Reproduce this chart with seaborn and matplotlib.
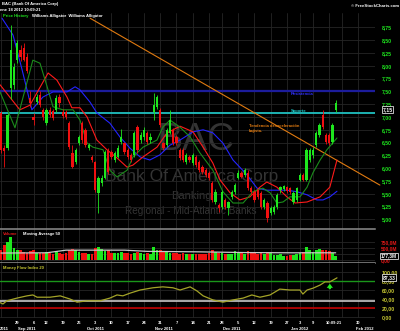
import numpy as np
import pandas as pd
import matplotlib
matplotlib.use("Agg")
import matplotlib.pyplot as plt
import seaborn as sns

# trading day index: 0 = 22 Aug 2011 ... 103 = 19 Jan 2012
opens = [7.08, 6.40, 6.39, 7.57, 7.63, 8.11, 8.31, 8.35, 8.17, 7.37,
         7.00, 7.29, 7.43, 7.14, 6.88, 7.14, 7.12, 7.14, 7.39, 7.10,
         7.10, 6.88, 6.30, 6.12, 6.49, 6.88, 6.75, 6.40, 6.22, 6.12,
         5.52, 5.71, 5.81, 6.36, 6.32, 6.16, 6.22, 6.51, 6.49, 6.36,
         6.26, 6.26, 6.80, 6.55, 6.61, 6.69, 6.55, 7.10, 7.20, 7.14,
         6.49, 6.45, 6.69, 6.75, 6.61, 6.36, 6.36, 6.12, 6.22, 6.10,
         6.22, 6.12, 6.02, 5.96, 5.91, 5.71, 5.34, 5.28, 5.24, 5.38,
         5.22, 5.44, 5.54, 5.81, 5.91, 5.87, 5.91, 5.61, 5.54, 5.57,
         5.52, 5.24, 5.32, 5.12, 5.14, 5.24, 5.57, 5.60, 5.63, 5.61,
         5.34, 5.38, 5.77, 5.87, 5.77, 6.16, 6.26, 6.45, 6.65, 7.04,
         6.65, 6.65, 6.51, 7.14]
highs = [7.12, 6.45, 7.08, 8.80, 8.05, 8.50, 8.40, 8.45, 8.25, 7.50,
         7.08, 7.45, 7.50, 7.18, 7.18, 7.20, 7.16, 7.42, 7.45, 7.15,
         7.14, 6.92, 6.45, 6.40, 6.65, 6.92, 6.78, 6.50, 6.25, 6.15,
         5.85, 5.86, 6.36, 6.40, 6.36, 6.33, 6.45, 6.77, 6.52, 6.40,
         6.30, 6.72, 6.84, 6.70, 6.80, 6.72, 6.68, 7.47, 7.42, 7.18,
         6.52, 6.78, 7.14, 6.78, 6.64, 6.40, 6.40, 6.30, 6.26, 6.30,
         6.26, 6.16, 6.06, 6.00, 5.95, 5.75, 5.60, 5.32, 5.58, 5.42,
         5.36, 5.58, 5.72, 5.96, 5.95, 6.00, 5.96, 5.65, 5.58, 5.60,
         5.56, 5.42, 5.36, 5.26, 5.28, 5.52, 5.66, 5.68, 5.66, 5.64,
         5.56, 5.64, 5.90, 5.90, 6.40, 6.40, 6.42, 6.72, 6.88, 7.14,
         6.68, 6.68, 6.88, 7.33]
lows = [6.30, 6.02, 6.36, 7.35, 7.55, 8.05, 8.10, 8.10, 7.85, 7.20,
        6.84, 7.25, 7.20, 6.95, 6.84, 7.00, 6.95, 7.10, 7.20, 6.98,
        6.96, 6.38, 6.00, 6.08, 6.45, 6.50, 6.42, 6.35, 6.12, 5.53,
        5.13, 5.66, 5.78, 5.88, 6.18, 6.12, 6.20, 6.48, 6.28, 6.18,
        6.12, 6.22, 6.30, 6.50, 6.55, 6.47, 6.50, 6.94, 7.15, 6.80,
        6.36, 6.42, 6.66, 6.45, 6.45, 6.16, 6.12, 6.08, 6.12, 6.06,
        6.02, 5.92, 5.88, 5.83, 5.77, 5.34, 5.30, 5.15, 5.20, 5.20,
        5.09, 5.40, 5.50, 5.78, 5.80, 5.83, 5.57, 5.50, 5.34, 5.40,
        5.20, 5.20, 4.95, 5.08, 5.10, 5.20, 5.52, 5.56, 5.52, 5.50,
        5.30, 5.34, 5.74, 5.74, 5.74, 6.12, 6.20, 6.42, 6.60, 6.76,
        6.48, 6.45, 6.48, 7.10]
closes = [6.35, 6.33, 7.04, 8.31, 7.98, 8.45, 8.17, 8.12, 7.90, 7.27,
          6.94, 7.39, 7.23, 7.00, 7.14, 7.04, 6.98, 7.37, 7.27, 7.02,
          7.00, 6.41, 6.02, 6.36, 6.61, 6.55, 6.45, 6.45, 6.16, 5.57,
          5.81, 5.81, 6.32, 5.93, 6.22, 6.30, 6.40, 6.61, 6.32, 6.22,
          6.16, 6.69, 6.36, 6.65, 6.75, 6.51, 6.61, 7.23, 7.39, 6.84,
          6.40, 6.75, 6.94, 6.49, 6.49, 6.20, 6.16, 6.26, 6.16, 6.26,
          6.06, 5.96, 5.93, 5.87, 5.81, 5.38, 5.54, 5.22, 5.54, 5.24,
          5.34, 5.54, 5.67, 5.91, 5.83, 5.96, 5.61, 5.54, 5.38, 5.44,
          5.24, 5.38, 5.03, 5.22, 5.24, 5.48, 5.63, 5.65, 5.56, 5.54,
          5.52, 5.61, 5.87, 5.77, 6.36, 6.36, 6.36, 6.69, 6.84, 6.80,
          6.51, 6.49, 6.84, 7.27]
# volume in millions
volumes = [420, 620, 750, 960, 500, 420, 400, 330, 300, 380,
           420, 300, 280, 300, 330, 280, 260, 350, 300, 260,
           280, 420, 450, 400, 330, 300, 280, 260, 250, 500,
           550, 450, 380, 400, 300, 300, 280, 330, 300, 280,
           260, 300, 330, 300, 270, 280, 260, 560, 400, 420,
           360, 330, 300, 300, 280, 260, 280, 250, 230, 250,
           260, 240, 230, 250, 300, 420, 350, 280, 300, 260,
           250, 260, 380, 330, 300, 260, 380, 300, 280, 250,
           300, 260, 330, 300, 200, 210, 230, 180, 160, 190,
           220, 230, 300, 330, 550, 400, 320, 420, 450, 400,
           420, 380, 300, 177]
vol_ma_idx = [0, 14, 20, 38, 45, 61, 75, 90, 103]
vol_ma_val = [290, 300, 410, 410, 360, 340, 310, 300, 300]

# Williams Alligator lines
jaw_idx = [0.3, 3.7, 6.5, 9.5, 12.9, 16, 20.3, 22.8, 24.3, 27.4, 29.5, 33.5, 36.6, 39.7,
           42.8, 45.8, 48.9, 52, 55.1, 59.1, 62.2, 65.2, 68.3, 71.4, 75.7, 78.8, 81.8,
           88, 91.1, 94.2, 97.2, 99.1, 101.2, 103.4]
jaw_val = [8.93, 8.60, 7.92, 7.14, 7.39, 7.49, 7.49, 7.59, 7.53, 7.29, 7.08, 6.88, 6.61, 6.39,
           6.22, 6.16, 6.26, 6.45, 6.55, 6.71, 6.75, 6.69, 6.49, 6.16, 5.87, 5.61, 5.57,
           5.57, 5.54, 5.48, 5.38, 5.38, 5.44, 5.55]
teeth_idx = [-0.3, 5.8, 8.9, 14.5, 17.2, 20.3, 21.8, 24.3, 26.5, 29.5, 32.6, 35.7, 38.8,
             40.6, 43.7, 48, 51.1, 55.1, 59.1, 62.2, 65.2, 67.4, 70.5, 73.5, 76.6, 79.7,
             81.8, 84.9, 88, 90.5, 94.2, 98.2, 101.2, 103.4]
teeth_val = [7.63, 7.14, 7.23, 7.86, 7.72, 7.39, 7.18, 7.18, 7.00, 6.55, 6.36, 6.20, 6.02,
             6.06, 6.22, 6.41, 6.69, 6.82, 6.71, 6.41, 6.10, 5.77, 5.52, 5.38, 5.44, 5.63,
             5.73, 5.63, 5.44, 5.32, 5.34, 5.44, 5.63, 6.16]
lips_idx = [-0.3, 4.3, 9.8, 12, 14.2, 16, 19.1, 22.2, 24.3, 26.5, 28.3, 31.4, 33.5, 35.7,
            38.8, 40.6, 43.7, 48, 49.8, 52, 55.1, 58.2, 61.2, 65.2, 68.3, 71.4, 74.5, 77.5,
            80.6, 82.8, 84.9, 86.8, 88.9, 92, 94.2, 96, 98.2, 100.3, 103.4]
lips_val = [7.49, 6.79, 8.11, 8.05, 7.59, 7.20, 7.14, 7.14, 6.94, 6.49, 6.41, 6.36, 5.96, 5.83,
            5.96, 6.22, 6.41, 6.55, 6.80, 6.94, 6.80, 6.61, 6.30, 5.96, 5.54, 5.32, 5.32, 5.54,
            5.61, 5.52, 5.32, 5.34, 5.44, 5.44, 5.63, 5.91, 6.16, 6.36, 6.59]
mfi_idx = [-0.3, 0.6, 1.8, 4.9, 8, 9.8, 11.1, 12.9, 15.1, 18.2, 21.2, 23.4, 26.5, 30.5,
           33.5, 35.7, 37.5, 39.7, 42.8, 46.8, 49.8, 52.9, 55.1, 58.2, 60.3, 62.2, 65.2,
           68.3, 71.4, 74.5, 77.2, 79.7, 82.8, 85.8, 88.9, 92, 92.9, 94.2, 96, 98.2, 99.7,
           101.2, 103.4]
mfi_val = [32, 29, 36, 42, 47, 49, 44, 44, 44, 47, 40, 33, 36, 36, 42, 49, 47, 53, 60, 65,
           67, 65, 60, 67, 58, 47, 38, 33, 38, 42, 49, 44, 49, 62, 60, 60, 51, 60, 64, 71,
           78, 78, 87]

trend_idx = [27.4, 116.6]
trend_val = [8.93, 5.67]
resistance = 7.51
support = 7.08
last_price = 7.15
last_volume = 177.3
last_mfi = 87.33

week_ticks = [5, 10, 14, 19, 24, 29, 34, 39, 44, 49, 54, 59, 64, 68, 73, 78, 83, 88, 92, 96, 110]
week_labels = ["29", "6", "12", "19", "26", "3", "10", "17", "24", "31", "7", "14", "21",
               "28", "5", "12", "19", "27", "3", "9", "30"]
grid_ticks = week_ticks + [0, 101, 105, 115]
month_ticks = [8, 29, 50, 71, 92, 112]
month_labels = ["Sep 2011", "Oct 2011", "Nov 2011", "Dec 2011", "Jan 2012", "Feb 2012"]

price_ticks = [5.00, 5.25, 5.50, 5.75, 6.00, 6.25, 6.50, 6.75, 7.00, 7.25, 7.50, 7.75,
               8.00, 8.25, 8.50, 8.75]
vol_ticks = [0, 250, 500, 750]
vol_tick_labels = ["0,00", "250,0M", "500,0M", "750,0M"]
mfi_ticks = [0, 20, 40, 60, 80, 100]

sns.set_style("dark")
plt.rcParams["font.family"] = ["Liberation Sans", "DejaVu Sans"]

GREEN = "#1ee61e"
RED = "#f01010"
GRID = "#262626"
SMALL = 3.0
AXFS = 3.7

fig = plt.figure(figsize=(4.0, 3.31), dpi=100, facecolor="black")
ax = fig.add_axes([0, 0.3082, 0.9375, 0.6525])
axv = fig.add_axes([0, 0.2054, 0.9375, 0.1028], sharex=ax)
axm = fig.add_axes([0, 0.0393, 0.9375, 0.1661], sharex=ax)

for a in (ax, axv, axm):
    a.set_facecolor("black")
    for s in a.spines.values():
        s.set_visible(False)
    a.set_xticks(grid_ticks)
    a.grid(True, color=GRID, lw=0.6)
    a.tick_params(axis="x", length=0, labelbottom=False)
    a.yaxis.tick_right()
    a.tick_params(axis="y", length=0, pad=5, labelsize=AXFS)
    a.set_axisbelow(True)

for s in ("top", "bottom"):
    axv.spines[s].set_visible(True)
    axv.spines[s].set_color("#8c8c8c")
    axv.spines[s].set_linewidth(1.1)

df = pd.DataFrame({"o": opens, "h": highs, "l": lows, "c": closes, "v": volumes})
df["i"] = np.arange(len(df))
colors = np.where(df["c"] >= df["o"], GREEN, RED)

# watermark
wm = "#343434"
ax.text(196 / 400, 1 - 140 / 331, "BAC", transform=fig.transFigure, ha="center", va="center",
        fontsize=27, color=wm, zorder=0.5)
ax.text(192 / 400, 1 - 177 / 331, "Bank Of America Corp", transform=fig.transFigure,
        ha="center", va="center", fontsize=12.5, color=wm, zorder=0.5)
ax.text(191 / 400, 1 - 196 / 331, "Banking", transform=fig.transFigure, ha="center",
        va="center", fontsize=8, color=wm, zorder=0.5)
ax.text(191 / 400, 1 - 211 / 331, "Regional - Mid-Atlantic Banks", transform=fig.transFigure,
        ha="center", va="center", fontsize=7.2, color=wm, zorder=0.5)

# main price panel
ax.axhline(resistance, color="#1c1c9c", lw=1.6, zorder=2)
ax.axhline(support, color="#20c0c0", lw=1.3, zorder=2)
ax.plot(trend_idx, trend_val, color="#e07a10", lw=0.8, zorder=2, clip_on=False)
sns.lineplot(x=jaw_idx, y=jaw_val, ax=ax, color="#2424ff", lw=0.8, zorder=3)
sns.lineplot(x=teeth_idx, y=teeth_val, ax=ax, color="#ff1a1a", lw=0.8, zorder=3)
sns.lineplot(x=lips_idx, y=lips_val, ax=ax, color="#1b8c1b", lw=0.8, zorder=3)
ax.vlines(df["i"], df["l"], df["h"], colors=colors, lw=0.6, zorder=4)
ax.bar(df["i"], (df["c"] - df["o"]).abs().clip(lower=0.02), bottom=np.minimum(df["o"], df["c"]),
       width=0.7, color=colors, lw=0, zorder=5)

ax.set_xlim(-0.31, 115.1)
ax.set_ylim(4.8125, 9.031)
ax.set_yticks(price_ticks)
ax.set_yticklabels([f"{v:.2f}".replace(".", ",") for v in price_ticks], color=GREEN,
                   fontweight="bold")
ax.set_xlabel("")
ax.set_ylabel("")

ax.text(89.2, resistance - 0.06, "Resistencia", color="#3030ff", fontsize=SMALL,
        fontweight="bold", va="center", zorder=6)
ax.text(89.2, support + 0.045, "Soporte", color="#20c8c8", fontsize=SMALL, fontweight="bold",
        va="center", zorder=6)
ax.text(76.3, 6.78, "Tendencia desaceleración\nbajista.", color="#e07a10", fontsize=SMALL,
        fontweight="bold", va="center", linespacing=1.3, zorder=6)

box = dict(boxstyle="square,pad=0.15", fc="black", ec="#dddddd", lw=0.6)
lab_x = 1.0 + 7.5 / 375
ax.text(lab_x, last_price, f"{last_price:.2f}".replace(".", ","),
        transform=ax.get_yaxis_transform(), color="white", fontsize=AXFS, fontweight="bold",
        va="center", ha="left", clip_on=False, bbox=box, zorder=10)

# volume panel
axv.bar(df["i"], df["v"], width=0.82, color=colors, lw=0, zorder=3)
sns.lineplot(x=vol_ma_idx, y=vol_ma_val, ax=axv, color="#c8c8c8", lw=0.9, zorder=4)
axv.set_ylim(-125, 1292)
axv.set_yticks(vol_ticks)
axv.set_yticklabels(vol_tick_labels, color="#e01818", fontweight="bold", fontsize=3.5)
axv.tick_params(axis="y", pad=4)
axv.set_xlabel("")
axv.set_ylabel("")
axv.text(1.0 + 6 / 375, last_volume, "177,3M", transform=axv.get_yaxis_transform(),
         color="white", fontsize=3.4, fontweight="bold", va="center", ha="left", clip_on=False,
         bbox=box, zorder=10)

# money flow panel
axm.axhline(80, color="#1a961a", lw=1.0, zorder=2)
axm.axhline(35, color="#c8c8c8", lw=1.2, zorder=2)
axm.axhline(20, color="#c00000", lw=1.2, zorder=2)
sns.lineplot(x=mfi_idx, y=mfi_val, ax=axm, color="#a4a428", lw=0.9, zorder=3)
axm.annotate("", xy=(101.2, 74), xytext=(101.2, 62),
             arrowprops=dict(color="#22ee22", width=1.6, headwidth=4.5, headlength=3, lw=0))
axm.set_ylim(-2.2, 120)
axm.set_yticks(mfi_ticks)
axm.set_yticklabels([f"{v:.2f}".replace(".", ",") for v in mfi_ticks], color="#c8c832",
                    fontweight="bold")
axm.set_xlabel("")
axm.set_ylabel("")
axm.text(lab_x, last_mfi, f"{last_mfi:.2f}".replace(".", ","),
         transform=axm.get_yaxis_transform(), color="white", fontsize=AXFS, fontweight="bold",
         va="center", ha="left", clip_on=False, bbox=box, zorder=10)

# date labels under the bottom panel
xt = axm.get_xaxis_transform()
for t, lab in zip(week_ticks, week_labels):
    axm.text(t, -0.09, lab, transform=xt, color="white", fontsize=SMALL, fontweight="bold",
             ha="center", va="center", clip_on=False)
for t, lab in zip(month_ticks, month_labels):
    axm.text(t, -0.195, lab, transform=xt, color="white", fontsize=SMALL, fontweight="bold",
             ha="center", va="center", clip_on=False)
axm.text(-0.3, -0.195, "2011", transform=xt, color="white", fontsize=SMALL, fontweight="bold",
         ha="left", va="center", clip_on=False)
axm.text(102.6, -0.09, "10:09:21", transform=xt, color="white", fontsize=2.9,
         fontweight="bold", ha="center", va="center", clip_on=False)

# headers
fig.text(0.005, 1 - 4.5 / 331, "BAC (Bank Of America Corp)", color="white", fontsize=SMALL,
         fontweight="bold", va="center")
fig.text(0.0, 1 - 10 / 331, "ene 18 2012 10:09:21", color="white", fontsize=SMALL,
         fontweight="bold", va="center")
fig.text(3 / 400, 1 - 15.5 / 331, "Price History", color=GREEN, fontsize=SMALL,
         fontweight="bold", va="center")
fig.text(32 / 400, 1 - 15.5 / 331, "Williams Alligator  Williams Alligator", color="white",
         fontsize=SMALL, fontweight="bold", va="center")
fig.text(0.998, 1 - 6 / 331, "© FreeStockCharts.com", color="white", fontsize=3.1,
         fontweight="bold", va="center", ha="right")
fig.text(3 / 400, 1 - 234 / 331, "Volume", color="#e01818", fontsize=SMALL, fontweight="bold",
         va="center")
fig.text(23 / 400, 1 - 234 / 331, "Moving Average 50", color="white", fontsize=SMALL,
         fontweight="bold", va="center")
fig.text(3 / 400, 1 - 268 / 331, "Money Flow Index 20", color="#c8c832", fontsize=SMALL,
         fontweight="bold", va="center")

fig.savefig("out.png", dpi=100, facecolor="black")
